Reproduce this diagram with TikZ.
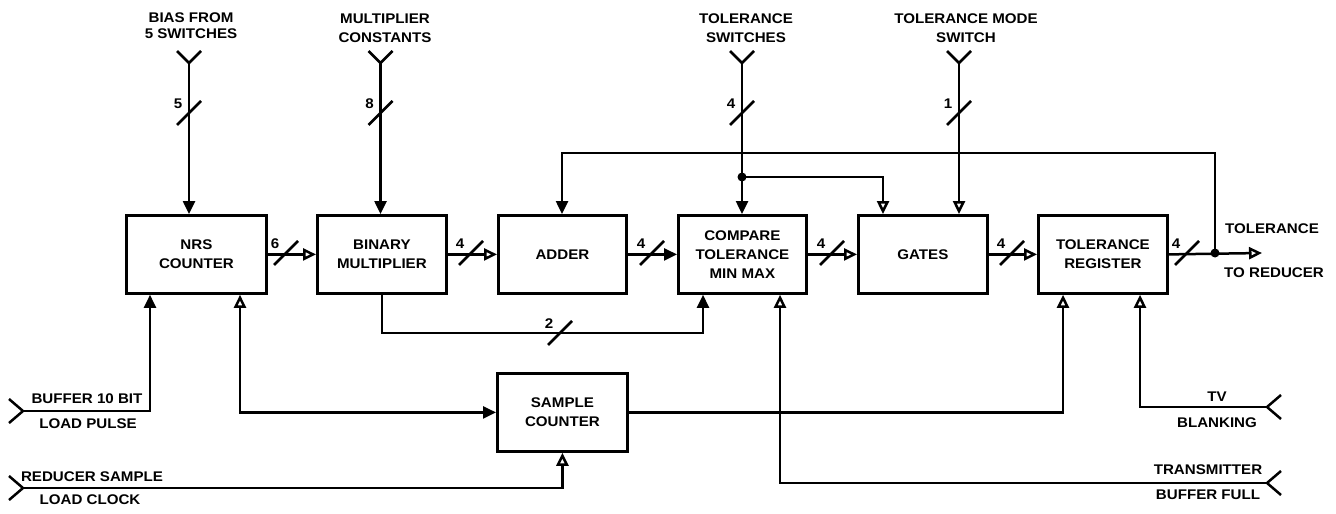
\documentclass[tikz,border=0pt]{standalone}
\usepackage{fontspec}
\setmainfont[FakeStretch=1.08]{Liberation Sans}
\usetikzlibrary{arrows.meta}
\newcommand\dlabelfont{\fontsize{14}{19}\selectfont\bfseries}
\begin{document}
\begin{tikzpicture}[x=1pt,y=-1pt,
  wire/.style={line width=2.5pt},
  blk/.style={draw,line width=2.8pt,anchor=north west,align=center,font=\dlabelfont,inner sep=0pt,minimum height=78pt},
  lbl/.style={font=\dlabelfont,align=center,inner sep=0pt},
  fa/.style={wire,-{Triangle[length=13pt,width=12pt]}},
  oa/.style={wire,-{Triangle[open,length=13pt,width=12pt]}},
  bus/.pic={\draw[line width=2.5pt] (-12,12) -- (12,-12);
            \node[font=\dlabelfont,inner sep=0pt] at (-11,-9) {#1};}
]
\useasboundingbox (0,0) rectangle (1336,514);
\fill[white] (0,0) rectangle (1336,514);

% blocks
\node[blk,minimum width=140pt] (nrs) at (125,214) {NRS\\COUNTER};
\node[blk,minimum width=129pt] (bm)  at (316,214) {BINARY\\MULTIPLIER};
\node[blk,minimum width=128pt] (add) at (497,214) {ADDER};
\node[blk,minimum width=128pt] (cmp) at (677,214) {COMPARE\\TOLERANCE\\MIN MAX};
\node[blk,minimum width=129pt] (gat) at (857,214) {GATES};
\node[blk,minimum width=129pt] (reg) at (1037,214) {TOLERANCE\\REGISTER};
\node[blk,minimum width=130pt] (sc)  at (496,372) {SAMPLE\\COUNTER};

% top input labels
\node[lbl] (tBias) at (191,26) {BIAS FROM\\[-3pt]5 SWITCHES};
\node[lbl] (tMul)  at (385,28) {MULTIPLIER\\CONSTANTS};
\node[lbl] (tTs)   at (746,28) {TOLERANCE\\SWITCHES};
\node[lbl] (tMode) at (966,28) {TOLERANCE MODE\\SWITCH};

% top input coordinates
\coordinate (inBias) at (189,63);
\coordinate (inMul)  at (380.5,63);
\coordinate (inTs)   at (742,63);
\coordinate (inMode) at (959,63);
\foreach \c in {inBias,inMul,inTs,inMode}
  \draw[wire] (\c) ++(-12,-12) -- (\c) -- ++(12,-12);

\draw[fa] (inBias) -- (inBias |- nrs.north);
\pic at (189,113) {bus=5};
\draw[fa] (inMul) -- (inMul |- bm.north);
\pic at (380.5,113) {bus=8};
\draw[fa] (inTs) -- (inTs |- cmp.north);
\pic at (742,113) {bus=4};
\coordinate (jTs) at (742,177);
\fill (jTs) circle (4.5);
\draw[oa] (jTs) -| (gat.north -| 883,0);
\draw[oa] (inMode) -- (inMode |- gat.north);
\pic at (959,113) {bus=1};

% horizontal chain
\draw[oa] (nrs.east) -- (bm.west);   \pic at (286,253) {bus=6};
\draw[oa] (bm.east) -- (add.west);   \pic at (471,253) {bus=4};
\draw[fa] (add.east) -- (cmp.west);  \pic at (652,253) {bus=4};
\draw[oa] (cmp.east) -- (gat.west);  \pic at (832,253) {bus=4};
\draw[oa] (gat.east) -- (reg.west);  \pic at (1012,253) {bus=4};
\coordinate (jOut) at (1215,253);
\coordinate (outEnd) at (1262,253);
\draw[oa] (reg.east) -- (outEnd);    \pic at (1187,253) {bus=4};
\fill (jOut) circle (4.5);
\node[lbl] (tTol) at (1272,229) {TOLERANCE};
\node[lbl] (tRed) at (1274,273) {TO REDUCER};

% feedback
\coordinate (fbR) at (1215,153);
\coordinate (fbL) at (562,153);
\draw[fa] (jOut) -- (fbR) -- (fbL) -- (fbL |- add.north);

% multiplier to compare
\coordinate (bmc) at (703,333);
\draw[fa] (bm.south) |- (bmc) -- (bmc |- cmp.south);
\pic at (560,333) {bus=2};

% left inputs
\coordinate (inBuf) at (23,411);
\coordinate (inRed) at (23,488);
\foreach \c in {inBuf,inRed}
  \draw[wire] (\c) ++(-14,-12) -- (\c) -- ++(-14,12);
\draw[fa] (inBuf) -| (nrs.south -| 150,0);
\node[lbl] (tBuf1) at (87,399) {BUFFER 10 BIT};
\node[lbl] (tBuf2) at (88,424) {LOAD PULSE};
\draw[wire,{Triangle[open,length=13pt,width=12pt]}-{Triangle[length=13pt,width=12pt]}] (nrs.south -| 240,0) |- (sc.west);
\draw[oa] (inRed) -| (sc.south);
\node[lbl] (tRed1) at (92,477) {REDUCER SAMPLE};
\node[lbl] (tRed2) at (90,500) {LOAD CLOCK};

% sample counter to register
\draw[oa] (sc.east) -| (reg.south -| 1063,0);

% right inputs
\coordinate (inTv) at (1267,407);
\coordinate (inTx) at (1267,483);
\foreach \c in {inTv,inTx}
  \draw[wire] (\c) ++(14,-12) -- (\c) -- ++(14,12);
\draw[oa] (inTv) -| (reg.south -| 1140,0);
\node[lbl] (tTv1) at (1217,397) {TV};
\node[lbl] (tTv2) at (1217,423) {BLANKING};
\draw[oa] (inTx) -| (cmp.south -| 780,0);
\node[lbl] (tTx1) at (1208,470) {TRANSMITTER};
\node[lbl] (tTx2) at (1208,495) {BUFFER FULL};
\end{tikzpicture}
\end{document}
